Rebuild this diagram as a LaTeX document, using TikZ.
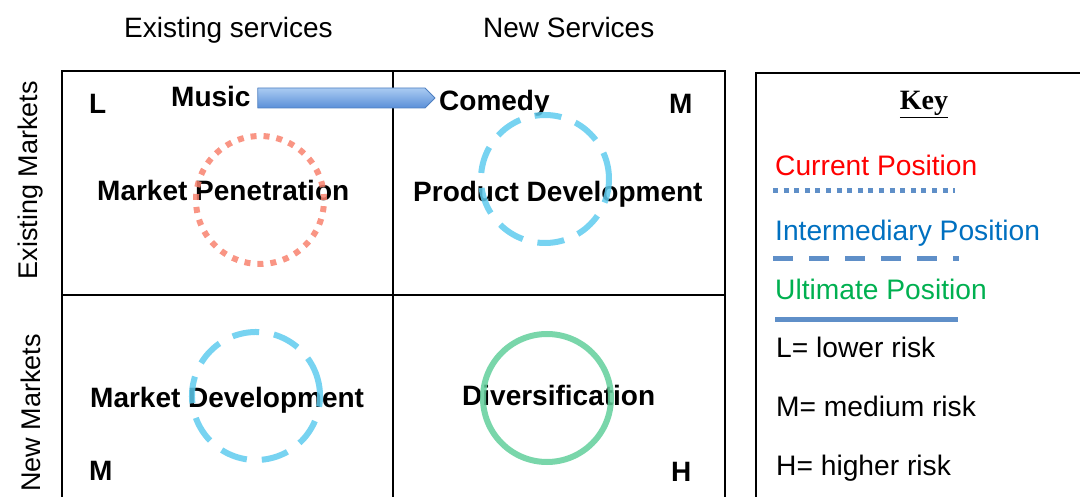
\documentclass[tikz,border=0pt]{standalone}
\usepackage{fontspec}
\setmainfont{Liberation Sans}
\newfontfamily\keyfont{Liberation Serif}
\usetikzlibrary{calc}
\definecolor{salmon}{HTML}{F8826F}
\definecolor{ltblue}{HTML}{5FCBEE}
\definecolor{greenc}{HTML}{62CF9B}
\definecolor{keyline}{HTML}{5F8FC8}
\definecolor{arrowTop}{HTML}{AACBF2}
\definecolor{arrowBot}{HTML}{5A8FD8}
\definecolor{arrowEdge}{HTML}{4E7FC0}
\definecolor{curred}{HTML}{FF0000}
\definecolor{interblue}{HTML}{0070C0}
\definecolor{ultgreen}{HTML}{00B050}
\tikzset{
  gridline/.style={line width=2pt, black},
  lbl/.style={font=\fontsize{28}{32}\selectfont, anchor=base west, inner sep=0pt},
  blbl/.style={font=\fontsize{28}{32}\selectfont\bfseries, anchor=base west, inner sep=0pt},
  sidelbl/.style={font=\fontsize{27}{30}\selectfont, rotate=90, inner sep=0pt},
  ring/.style={circle, minimum size=128pt, inner sep=0pt, line width=6pt, draw opacity=0.85},
  keyitem/.style={font=\fontsize{28.2}{32}\selectfont, anchor=base west, inner sep=0pt},
  legendline/.style={line width=5pt, keyline},
}
\begin{document}
\begin{tikzpicture}[x=1pt,y=-1pt]
\useasboundingbox (0,0) rectangle (1080,497);
% grid
\draw[gridline] (62,497) -- (62,71) -- (725,71) -- (725,497);
\draw[gridline] (393,71) -- (393,497);
\draw[gridline] (62,295.5) -- (725,295.5);
% key box
\draw[gridline] (755.5,497) -- (755.5,73.5) -- (1082,73.5);
% headers
\node[lbl] (hes) at (124,38) {Existing services};
\node[lbl] (hns) at (483,38) {New Services};
\node[sidelbl] (hem) at (31,180) {Existing Markets};
\node[sidelbl] (hnm) at (31,413) {New Markets};
% risk letters
\node[blbl] (rl) at (89,114) {L};
\node[blbl] (rm1) at (669,114) {M};
\node[blbl] (rm2) at (89,480) {M};
\node[blbl] (rh) at (671,481) {H};
% cell labels
\node[blbl] (music) at (171,107) {Music};
\node[blbl] (comedy) at (439,111) {Comedy};
\node[blbl] (mp) at (97,201) {Market Penetration};
\node[blbl] (pd) at (413,202) {Product Development};
\node[blbl] (md) at (90,407) {Market Development};
\node[blbl] (dv) at (462,406) {Diversification};
% arrow Music -> Comedy
\coordinate (as) at ($(music.east)+(7,1)$);
\coordinate (ae) at ($(as -| comedy.west)+(-4,0)$);
\shade[top color=arrowTop, bottom color=arrowBot]
  ($(as)+(0,-10)$) -- ($(ae)+(-10,-10)$) -- (ae) -- ($(ae)+(-10,10)$) -- ($(as)+(0,10)$) -- cycle;
\draw[arrowEdge, line width=0.8pt, line join=round]
  ($(as)+(0,-10)$) -- ($(ae)+(-10,-10)$) -- (ae) -- ($(ae)+(-10,10)$) -- ($(as)+(0,10)$) -- cycle;
% rings
\node[ring, draw=salmon, dash pattern=on 6pt off 7pt] (cmp) at (260,200) {};
\node[ring, draw=ltblue, dash pattern=on 27pt off 15pt] (cpd) at (545,179) {};
\node[ring, draw=ltblue, dash pattern=on 27pt off 15pt, rotate=12] (cmd) at (256,396) {};
\node[ring, draw=greenc] (cdv) at (547,398) {};
% key
\node[font=\keyfont\fontsize{28}{32}\selectfont\bfseries, anchor=base, inner sep=0pt] (key) at (924,110) {\underline{Key}};
\node[keyitem, text=curred] (kc) at (775,176) {Current Position};
\draw[legendline, dash pattern=on 5pt off 5.6pt] (773,190.5) -- (955,190.5);
\node[keyitem, text=interblue] (ki) at (775,241) {Intermediary Position};
\draw[legendline, dash pattern=on 20pt off 16pt] (773,259) -- (959,259);
\node[keyitem, text=ultgreen] (ku) at (775,300) {Ultimate Position};
\draw[legendline] (775,319.5) -- (958,319.5);
\node[keyitem] (kl) at (776,358) {L= lower risk};
\node[keyitem] (km) at (776,416) {M= medium risk};
\node[keyitem] (kh) at (776,475) {H= higher risk};
\end{tikzpicture}
\end{document}
